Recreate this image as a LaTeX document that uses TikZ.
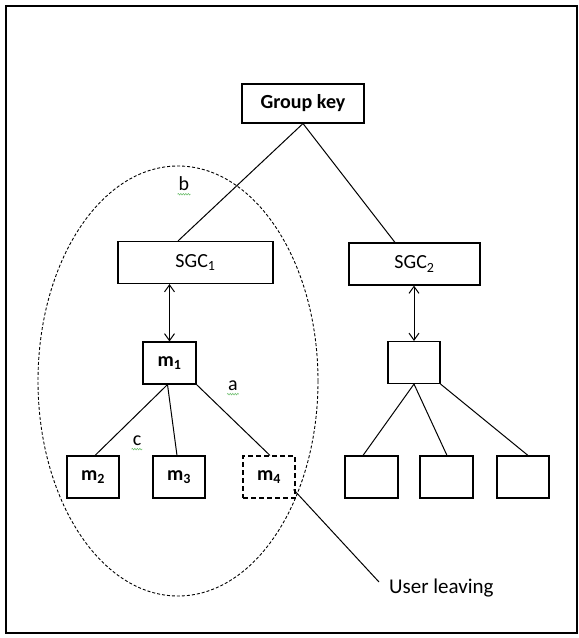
\documentclass[tikz,border=0pt]{standalone}
\usepackage{fontspec}
\setmainfont{Carlito}
\usetikzlibrary{arrows.meta,calc,decorations.pathmorphing}

\begin{document}
\begin{tikzpicture}[x=1pt,y=-1pt,
  box/.style={draw, line width=1.1pt, inner sep=0pt,
    minimum width=#1, minimum height=42pt,
    font=\fontsize{20}{23}\selectfont},
  link/.style={draw, line width=1pt},
  dbl/.style={line width=1pt, {Straight Barb[length=7pt,width=10pt]}-{Straight Barb[length=7pt,width=10pt]}},
  lbl/.style={font=\fontsize{20}{23}\selectfont, inner sep=0pt},
  squiggle/.style={draw=green!55!black, line width=0.5pt, opacity=0.6,
    decorate, decoration={snake, segment length=2.5pt, amplitude=0.8pt}}]

\useasboundingbox (0,0) rectangle (579,638);

% outer frame
\draw[line width=2pt] (5.5,6) rectangle (576.5,632.5);

% group of members around SGC1
\draw[line width=0.9pt, dash pattern=on 3pt off 2pt] (178,381) ellipse [x radius=140, y radius=215];

% key hierarchy
\node[box=122pt, minimum height=39pt, font=\fontsize{20}{23}\selectfont\bfseries] (gk) at (303,103.5) {Group key};
\node[box=155pt] (sgc1) at (195.5,262.5) {SGC\textsubscript{1}};
\node[box=131pt] (sgc2) at (414.5,264) {SGC\textsubscript{2}};

\node[box=53pt, font=\fontsize{20}{23}\selectfont\bfseries] (m1) at (169.5,363) {m\textsubscript{1}};
\node[box=52pt] (k2) at (414,362.5) {};

\node[box=52pt, font=\fontsize{20}{23}\selectfont\bfseries] (m2) at (93,477) {m\textsubscript{2}};
\node[box=52pt, font=\fontsize{20}{23}\selectfont\bfseries] (m3) at (179,477) {m\textsubscript{3}};
\node[box=52pt, dash pattern=on 5pt off 3pt, font=\fontsize{20}{23}\selectfont\bfseries] (m4) at (269,477) {m\textsubscript{4}};

\node[box=53pt] (r1) at (371.5,477) {};
\node[box=53pt] (r2) at (446.5,477) {};
\node[box=52pt] (r3) at (523,477) {};

% connectors
\draw[link] (gk.south) -- ($(sgc1.north)+(-17.5,0)$);
\draw[link] (gk.south) -- ($(sgc2.north)+(-19.5,0)$);
\draw[dbl] (sgc1.south -| m1.north) -- (m1.north);
\draw[dbl] (sgc2.south -| k2.north) -- (k2.north);

\draw[link] ($(m1.south)+(-2,0)$) -- ($(m2.north)+(2,0)$);
\draw[link] ($(m1.south)+(-2,0)$) -- ($(m3.north)+(-2,0)$);
\draw[link] (m1.south east) -- ($(m4.north)+(1,0)$);

\draw[link] (k2.south) -- ($(r1.north)+(-8.5,0)$);
\draw[link] (k2.south) -- ($(r2.north)+(0.5,0)$);
\draw[link] (k2.south east) -- ($(r3.north)+(5,0)$);

% leaving user
\node[lbl, anchor=west, font=\fontsize{21}{24}\selectfont] (leave) at (389,588) {User leaving};
\coordinate (leaveEnd) at (379,582);
\draw[link] ($(m4.south east)+(-2,-9)$) -- (leaveEnd);

% labels
\node[lbl] (lb) at (184,184) {b};
\node[lbl] (la) at (233,386) {a};
\node[lbl] (lc) at (137,441) {c};
\draw[squiggle] ($(lb.south west)+(-1,3)$) -- ($(lb.south east)+(1,3)$);
\draw[squiggle] ($(la.south west)+(-1,3)$) -- ($(la.south east)+(1,3)$);
\draw[squiggle] ($(lc.south west)+(-1,3)$) -- ($(lc.south east)+(1,3)$);

\end{tikzpicture}
\end{document}
